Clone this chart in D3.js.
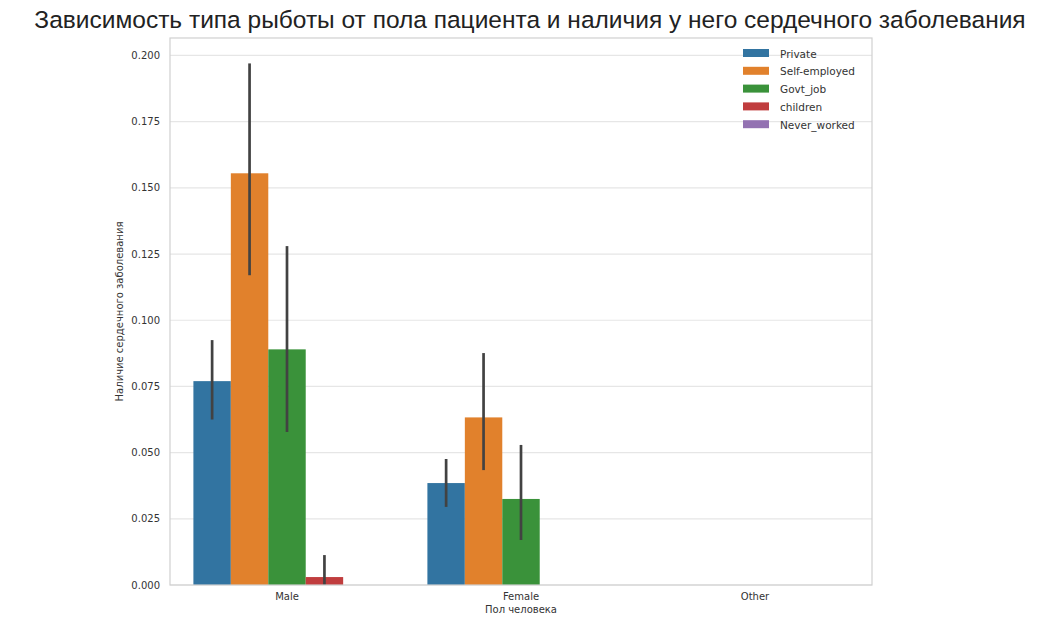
<!DOCTYPE html>
<html>
<head>
<meta charset="utf-8">
<script src="https://cdn.jsdelivr.net/npm/d3@7"></script>
<style>
  body { margin: 0; background: #fff; }
  text { font-family: "DejaVu Sans", sans-serif; }
</style>
</head>
<body>
<div id="chart"></div>
<script>
// Categories and series
const genders = ['Male', 'Female', 'Other'];
const workTypes = ['Private', 'Self-employed', 'Govt_job', 'children', 'Never_worked'];
const colors = ['#3274a1', '#e1812c', '#3a923a', '#c03d3e', '#9372b2'];

// Mean share with heart disease, per gender (rows) and work type (cols). null = no bar.
const means = [
  [0.077, 0.1555, 0.089, 0.003, 0.0],
  [0.0385, 0.0633, 0.0325, null, null],
  [null, null, null, null, null]
];
// Confidence interval bounds
const ciLow = [
  [0.0625, 0.117, 0.0578, 0.0, null],
  [0.0295, 0.0434, 0.017, null, null],
  [null, null, null, null, null]
];
const ciHigh = [
  [0.0925, 0.197, 0.128, 0.0113, null],
  [0.0476, 0.0876, 0.0529, null, null],
  [null, null, null, null, null]
];
const yTicks = [0, 0.025, 0.05, 0.075, 0.1, 0.125, 0.15, 0.175, 0.2];

const width = 1039;
const height = 617;
const margin = {top: 38, right: 167, bottom: 32, left: 170};

const svg = d3.select('#chart')
  .append('svg')
  .attr('width', width)
  .attr('height', height);

// Title
svg.append('text')
  .text('Зависимость типа рыботы от пола пациента и наличия у него сердечного заболевания')
  .attr('x', 530)
  .attr('y', 28)
  .style('text-anchor', 'middle')
  .style('font-family', '"Liberation Sans", Arial, sans-serif')
  .style('font-size', '24.5px')
  .style('fill', '#222');

const x = d3.scaleBand()
  .domain(genders)
  .range([margin.left, width - margin.right]);
const xInner = d3.scaleBand()
  .domain(workTypes)
  .range([0, x.bandwidth() * 0.8]);
const y = d3.scaleLinear()
  .domain([0, 0.2066])
  .range([height - margin.bottom, margin.top]);

// Grid
svg.append('g')
  .selectAll('line')
  .data(yTicks)
  .enter()
  .append('line')
  .attr('x1', margin.left)
  .attr('x2', width - margin.right)
  .attr('y1', d => y(d))
  .attr('y2', d => y(d))
  .style('stroke', '#e6e6e6')
  .style('stroke-width', 1.2);

// Y tick labels
svg.append('g')
  .selectAll('text')
  .data(yTicks)
  .enter()
  .append('text')
  .text(d => d3.format('.3f')(d))
  .attr('x', margin.left - 10)
  .attr('y', d => y(d) + 3.5)
  .style('text-anchor', 'end')
  .style('font-size', '10px')
  .style('fill', '#333');

// X tick labels
svg.append('g')
  .selectAll('text')
  .data(genders)
  .enter()
  .append('text')
  .text(d => d)
  .attr('x', d => x(d) + x.bandwidth() / 2)
  .attr('y', height - margin.bottom + 15)
  .style('text-anchor', 'middle')
  .style('font-size', '10px')
  .style('fill', '#333');

// Axis labels
svg.append('text')
  .text('Пол человека')
  .attr('x', x('Female') + x.bandwidth() / 2)
  .attr('y', height - margin.bottom + 28)
  .style('text-anchor', 'middle')
  .style('font-size', '10px')
  .style('fill', '#333');

svg.append('text')
  .text('Наличие сердечного заболевания')
  .attr('transform', `translate(123, ${(y(0) + margin.top) / 2}) rotate(-90)`)
  .style('text-anchor', 'middle')
  .style('font-size', '10px')
  .style('fill', '#333');

// Bars and error bars
const groups = svg.append('g')
  .selectAll('g')
  .data(genders)
  .enter()
  .append('g')
  .attr('transform', d => `translate(${x(d) + x.bandwidth() * 0.1}, 0)`);

groups.each(function(g, gi) {
  const grp = d3.select(this);
  workTypes.forEach((w, wi) => {
    const v = means[gi][wi];
    if (v === null) return;
    grp.append('rect')
      .attr('x', xInner(w))
      .attr('width', xInner.bandwidth())
      .attr('y', y(v))
      .attr('height', y(0) - y(v))
      .style('fill', colors[wi]);
  });
  workTypes.forEach((w, wi) => {
    const lo = ciLow[gi][wi];
    const hi = ciHigh[gi][wi];
    if (lo === null || hi === null) return;
    const cx = xInner(w) + xInner.bandwidth() / 2;
    grp.append('line')
      .attr('x1', cx)
      .attr('x2', cx)
      .attr('y1', y(lo))
      .attr('y2', y(hi))
      .style('stroke', '#424242')
      .style('stroke-width', 2.7);
  });
});

// Frame
svg.append('rect')
  .attr('x', margin.left)
  .attr('y', margin.top)
  .attr('width', width - margin.right - margin.left)
  .attr('height', y(0) - margin.top)
  .style('fill', 'none')
  .style('stroke', '#d0d0d0')
  .style('stroke-width', 1.2);

// Legend
const legend = svg.append('g')
  .selectAll('g')
  .data(workTypes)
  .enter()
  .append('g')
  .attr('transform', (d, i) => `translate(743, ${49 + i * 17.8})`);

legend.append('rect')
  .attr('width', 26)
  .attr('height', 8)
  .style('fill', (d, i) => colors[i]);

legend.append('text')
  .text(d => d)
  .attr('x', 37)
  .attr('y', 8.5)
  .style('font-size', '10.5px')
  .style('fill', '#333');
</script>
</body>
</html>
